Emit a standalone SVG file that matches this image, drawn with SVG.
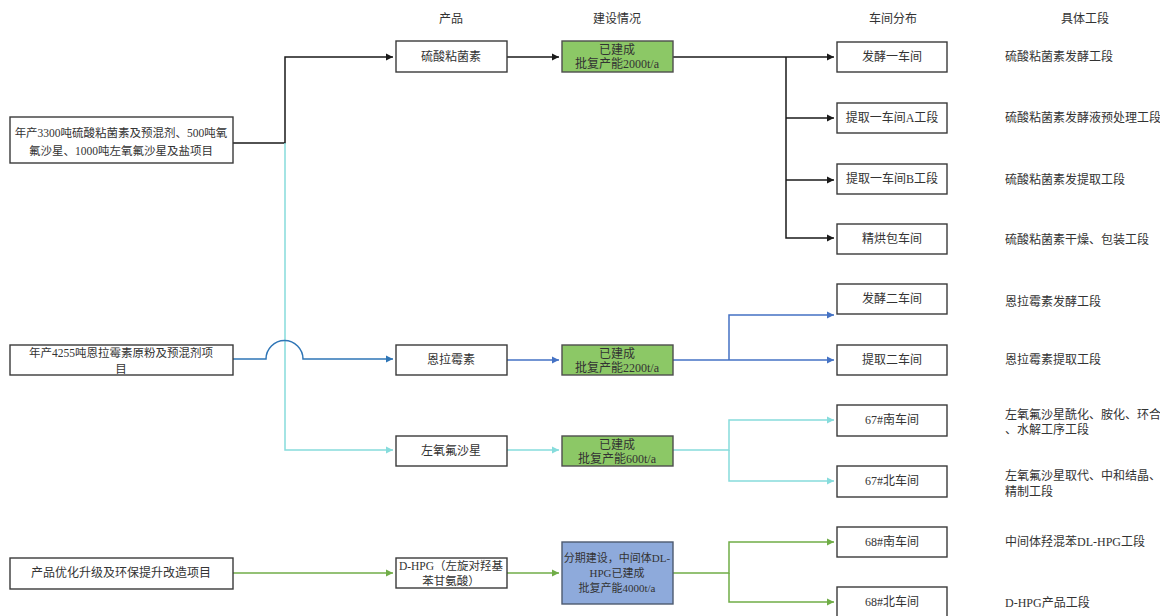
<svg xmlns="http://www.w3.org/2000/svg" width="1160" height="616" viewBox="0 0 1160 616">
<defs>
<style>
text{font-family:"Liberation Serif","Noto Sans CJK SC",serif;font-size:12px;fill:#333}
.c{text-anchor:middle}
.box{fill:#fff;stroke:#3a3a3a;stroke-width:1.4}
.gbox{fill:#8cc866;stroke:#4d4d4d;stroke-width:1.4}
.bbox{fill:#8eaadb;stroke:#4d5a70;stroke-width:1.4}
.k{fill:none;stroke:#1a1a1a;stroke-width:1.5}
.b{fill:none;stroke:#4472c4;stroke-width:1.5}
.bd{fill:none;stroke:#2e75b6;stroke-width:1.5}
.cy{fill:none;stroke:#86dcdc;stroke-width:1.5}
.g{fill:none;stroke:#70ad47;stroke-width:1.5}
</style>
<marker id="ak" viewBox="0 0 10 10" refX="10" refY="5" markerWidth="5" markerHeight="5" orient="auto" markerUnits="strokeWidth"><path d="M0,0L10,5L0,10z" fill="#1a1a1a"/></marker>
<marker id="ab" viewBox="0 0 10 10" refX="10" refY="5" markerWidth="5" markerHeight="5" orient="auto" markerUnits="strokeWidth"><path d="M0,0L10,5L0,10z" fill="#4472c4"/></marker>
<marker id="abd" viewBox="0 0 10 10" refX="10" refY="5" markerWidth="5" markerHeight="5" orient="auto" markerUnits="strokeWidth"><path d="M0,0L10,5L0,10z" fill="#2e75b6"/></marker>
<marker id="acy" viewBox="0 0 10 10" refX="10" refY="5" markerWidth="5" markerHeight="5" orient="auto" markerUnits="strokeWidth"><path d="M0,0L10,5L0,10z" fill="#86dcdc"/></marker>
<marker id="ag" viewBox="0 0 10 10" refX="10" refY="5" markerWidth="5" markerHeight="5" orient="auto" markerUnits="strokeWidth"><path d="M0,0L10,5L0,10z" fill="#70ad47"/></marker>
</defs>
<rect width="1160" height="616" fill="#fff"/>

<g id="headers">
<text class="c" x="451" y="23">产品</text>
<text class="c" x="617" y="23">建设情况</text>
<text class="c" x="893" y="23">车间分布</text>
<text class="c" x="1085" y="23">具体工段</text>
</g>

<g id="connectors">
<path class="k" d="M230,143H285V57H393" marker-end="url(#ak)"/>
<path class="k" d="M507,57H559" marker-end="url(#ak)"/>
<path class="k" d="M673,57H834" marker-end="url(#ak)"/>
<path class="k" d="M786,57V238H834" marker-end="url(#ak)"/>
<path class="k" d="M786,118H834" marker-end="url(#ak)"/>
<path class="k" d="M786,180H834" marker-end="url(#ak)"/>
<path class="cy" d="M285,143V450H393" marker-end="url(#acy)"/>
<path class="bd" d="M230,359H266A18.5,18.5 0 0 1 303,359H393" marker-end="url(#abd)"/>
<path class="b" d="M507,360H559" marker-end="url(#ab)"/>
<path class="b" d="M673,360H834" marker-end="url(#ab)"/>
<path class="b" d="M729,360V315H834" marker-end="url(#ab)"/>
<path class="cy" d="M507,450H559" marker-end="url(#acy)"/>
<path class="cy" d="M673,450H729V420H834" marker-end="url(#acy)"/>
<path class="cy" d="M729,450V481H834" marker-end="url(#acy)"/>
<path class="g" d="M173,573H393" marker-end="url(#ag)"/>
<path class="g" d="M507,573H559" marker-end="url(#ag)"/>
<path class="g" d="M673,573H729V542H834" marker-end="url(#ag)"/>
<path class="g" d="M729,573V602H834" marker-end="url(#ag)"/>
</g>

<g id="proj1"><rect class="box" x="10" y="117" width="223" height="46"/>
<text class="c" x="121" y="137" style="font-size:11.5px">年产3300吨硫酸粘菌素及预混剂、500吨氧</text>
<text class="c" x="121" y="155" style="font-size:11.5px">氟沙星、1000吨左氧氟沙星及盐项目</text></g>
<g id="proj2"><rect class="box" x="10" y="345" width="223" height="30"/>
<text class="c" x="121" y="357" style="font-size:11.5px">年产4255吨恩拉霉素原粉及预混剂项</text>
<text class="c" x="121" y="373" style="font-size:11.5px">目</text></g>
<g id="proj3"><rect class="box" x="10" y="558" width="223" height="31"/>
<text class="c" x="121" y="577">产品优化升级及环保提升改造项目</text></g>

<g id="prod1"><rect class="box" x="396" y="41" width="111" height="31"/><text class="c" x="451" y="61">硫酸粘菌素</text></g>
<g id="prod2"><rect class="box" x="396" y="345" width="111" height="30"/><text class="c" x="451" y="364">恩拉霉素</text></g>
<g id="prod3"><rect class="box" x="396" y="436" width="111" height="30"/><text class="c" x="451" y="455">左氧氟沙星</text></g>
<g id="prod4"><rect class="box" x="396" y="558" width="111" height="30"/>
<text class="c" x="451" y="570" style="font-size:11.5px">D-HPG（左旋对羟基</text><text class="c" x="451" y="585" style="font-size:11.5px">苯甘氨酸）</text></g>

<g id="st1"><rect class="gbox" x="562" y="41" width="111" height="31"/>
<text class="c" x="617" y="54">已建成</text><text class="c" x="617" y="68">批复产能2000t/a</text></g>
<g id="st2"><rect class="gbox" x="562" y="345" width="111" height="30"/>
<text class="c" x="617" y="358">已建成</text><text class="c" x="617" y="372">批复产能2200t/a</text></g>
<g id="st3"><rect class="gbox" x="562" y="436" width="111" height="30"/>
<text class="c" x="617" y="449">已建成</text><text class="c" x="617" y="463">批复产能600t/a</text></g>
<g id="st4"><rect class="bbox" x="562" y="542" width="111" height="62"/>
<text class="c" x="617" y="562" style="font-size:11px">分期建设，中间体DL-</text>
<text class="c" x="617" y="577" style="font-size:11px">HPG已建成</text>
<text class="c" x="617" y="592" style="font-size:11px">批复产能4000t/a</text></g>

<g id="ws1"><rect class="box" x="837" y="42" width="110" height="30"/><text class="c" x="892" y="61">发酵一车间</text></g>
<g id="ws2"><rect class="box" x="837" y="103" width="110" height="30"/><text class="c" x="892" y="122">提取一车间A工段</text></g>
<g id="ws3"><rect class="box" x="837" y="164" width="110" height="30"/><text class="c" x="892" y="183">提取一车间B工段</text></g>
<g id="ws4"><rect class="box" x="837" y="224" width="110" height="30"/><text class="c" x="892" y="243">精烘包车间</text></g>
<g id="ws5"><rect class="box" x="837" y="284" width="110" height="30"/><text class="c" x="892" y="303">发酵二车间</text></g>
<g id="ws6"><rect class="box" x="837" y="345" width="110" height="30"/><text class="c" x="892" y="364">提取二车间</text></g>
<g id="ws7"><rect class="box" x="837" y="405" width="110" height="31"/><text class="c" x="892" y="424">67#南车间</text></g>
<g id="ws8"><rect class="box" x="837" y="466" width="110" height="31"/><text class="c" x="892" y="485">67#北车间</text></g>
<g id="ws9"><rect class="box" x="837" y="527" width="110" height="30"/><text class="c" x="892" y="546">68#南车间</text></g>
<g id="ws10"><rect class="box" x="837" y="587" width="110" height="30"/><text class="c" x="892" y="606">68#北车间</text></g>

<g id="sections">
<text x="1005" y="61">硫酸粘菌素发酵工段</text>
<text x="1005" y="122">硫酸粘菌素发酵液预处理工段</text>
<text x="1005" y="184">硫酸粘菌素发提取工段</text>
<text x="1005" y="244">硫酸粘菌素干燥、包装工段</text>
<text x="1005" y="306">恩拉霉素发酵工段</text>
<text x="1005" y="364">恩拉霉素提取工段</text>
<text x="1005" y="419">左氧氟沙星酰化、胺化、环合</text>
<text x="1005" y="434">、水解工序工段</text>
<text x="1005" y="480">左氧氟沙星取代、中和结晶、</text>
<text x="1005" y="496">精制工段</text>
<text x="1005" y="546">中间体羟混苯DL-HPG工段</text>
<text x="1005" y="607">D-HPG产品工段</text>
</g>
</svg>
